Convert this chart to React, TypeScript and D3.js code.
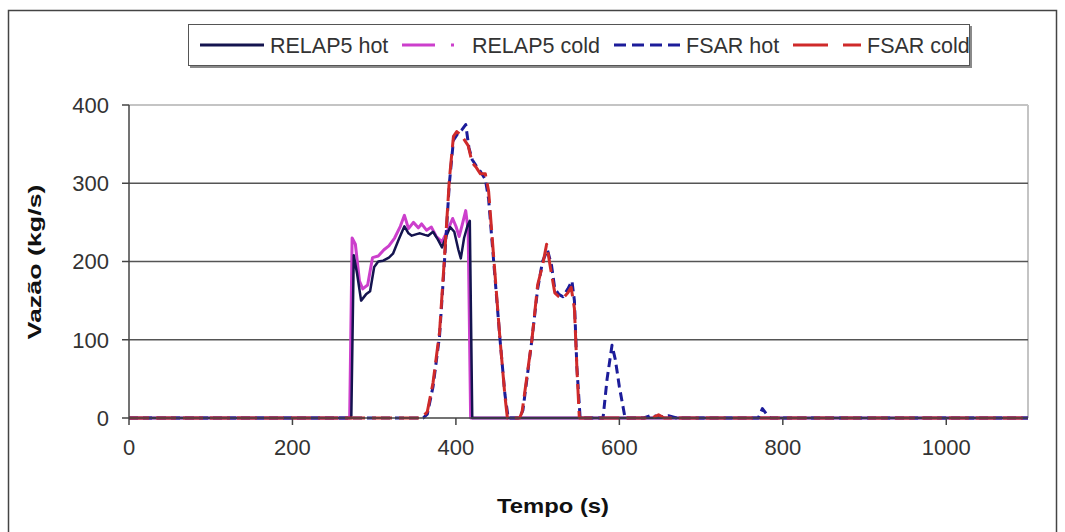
import React from "react";
import * as d3 from "d3";

const xTicks = [0, 200, 400, 600, 800, 1000];
const yTicks = [0, 100, 200, 300, 400];

const relap5Hot: [number, number][] = [
  [0, 0], [272, 0], [275, 208], [279, 185], [284, 150], [290, 158], [295, 162], [300, 193],
  [305, 200], [311, 201], [318, 205], [323, 210], [330, 228], [337, 245], [342, 236], [346, 233],
  [352, 235], [356, 236], [362, 234], [366, 233], [372, 238], [378, 228], [383, 218], [388, 232],
  [393, 244], [398, 238], [403, 215], [406, 204], [410, 230], [414, 245], [417, 252], [420, 0], [1100, 0],
];

const relap5Cold: [number, number][] = [
  [0, 0], [270, 0], [273, 230], [277, 222], [282, 175], [286, 165], [292, 170], [298, 205],
  [305, 207], [312, 215], [318, 220], [325, 230], [332, 245], [337, 259], [342, 242], [348, 250],
  [354, 243], [358, 248], [364, 240], [370, 244], [376, 232], [383, 225], [390, 240], [396, 255],
  [400, 245], [404, 232], [408, 248], [412, 265], [415, 240], [418, 0], [1100, 0],
];

const fsarHot: [number, number][] = [
  [0, 0], [360, 0], [365, 5], [372, 40], [380, 105], [386, 200], [392, 300], [397, 355], [402, 363],
  [407, 368], [412, 375], [416, 345], [420, 330], [425, 322], [430, 315], [436, 305], [440, 280],
  [447, 190], [454, 100], [460, 30], [464, 0], [478, 0], [482, 10], [493, 100], [500, 165], [506, 200],
  [512, 215], [517, 195], [521, 165], [526, 158], [531, 155], [537, 165], [542, 175], [545, 150],
  [548, 65], [552, 0], [580, 0], [585, 50], [591, 93], [595, 75], [600, 40], [607, 0], [630, 0],
  [640, 4], [648, 1], [660, 3], [670, 0], [770, 0], [775, 12], [780, 5], [785, 0], [1100, 0],
];

const fsarCold: [number, number][] = [
  [0, 0], [358, 0], [365, 8], [372, 45], [380, 110], [386, 205], [392, 305], [397, 360], [401, 366],
  [406, 362], [410, 356], [415, 348], [420, 326], [425, 320], [430, 312], [436, 312], [440, 290],
  [447, 195], [454, 100], [460, 28], [463, 0], [478, 0], [481, 8], [493, 100], [500, 170], [506, 195],
  [511, 222], [516, 190], [521, 160], [526, 155], [531, 153], [537, 160], [541, 167], [545, 140],
  [548, 65], [551, 0], [640, 0], [648, 4], [655, 0], [1100, 0],
];

const seriesNames = ["RELAP5 hot", "RELAP5 cold", "FSAR hot", "FSAR cold"];

const FONT = "'Liberation Sans', Arial, sans-serif";

export default function App() {
  const x = d3.scaleLinear().domain([0, 1100]).range([129, 1028]);
  const y = d3.scaleLinear().domain([0, 400]).range([418, 105]);
  const line = d3
    .line<[number, number]>()
    .x((d) => x(d[0]))
    .y((d) => y(d[1]));

  const series = [
    { name: seriesNames[1], data: relap5Cold, color: "#cc3fcc", width: 3, dash: undefined as string | undefined },
    { name: seriesNames[0], data: relap5Hot, color: "#14144f", width: 2.5, dash: undefined as string | undefined },
    { name: seriesNames[2], data: fsarHot, color: "#1c1c9a", width: 3, dash: "9,5" },
    { name: seriesNames[3], data: fsarCold, color: "#cf2a2a", width: 3, dash: "20,7" },
  ];

  const legendItems = [
    { name: seriesNames[0], x1: 200, x2: 264, tx: 270, color: "#14144f", dash: undefined as string | undefined, w: 3 },
    { name: seriesNames[1], x1: 402, x2: 466, tx: 472, color: "#cc3fcc", dash: "33,16,3,20", w: 3 },
    { name: seriesNames[2], x1: 614, x2: 681, tx: 686, color: "#1c1c9a", dash: "12,6", w: 3 },
    { name: seriesNames[3], x1: 793, x2: 861, tx: 867, color: "#cf2a2a", dash: "35,15", w: 3 },
  ];

  return (
    <svg
      width={1065}
      height={532}
      style={{ position: "absolute", left: 0, top: 0, background: "#fff" }}
      fontFamily={FONT}
    >
      <rect x={0} y={0} width={1065} height={532} fill="#fff" />
      {/* outer frame */}
      <rect x={8.5} y={10.5} width={1048} height={540} fill="none" stroke="#444" strokeWidth={1.5} />

      {/* legend */}
      <rect x={190} y={26} width={782} height={42} fill="#8a8a8a" />
      <rect x={188.5} y={24.5} width={781} height={41} fill="#fff" stroke="#555" strokeWidth={1} />
      {legendItems.map((it) => (
        <g key={it.name}>
          <line x1={it.x1} x2={it.x2} y1={45} y2={45} stroke={it.color} strokeWidth={it.w} strokeDasharray={it.dash} />
          <text x={it.tx} y={53} fontSize={21.5} fill="#333">
            {it.name}
          </text>
        </g>
      ))}

      {/* plot area borders */}
      <line x1={129} x2={1028} y1={y(400)} y2={y(400)} stroke="#c4c4c4" strokeWidth={2} />
      <line x1={1028} x2={1028} y1={y(400)} y2={y(0)} stroke="#c4c4c4" strokeWidth={2} />

      {/* gridlines */}
      {yTicks
        .filter((t) => t > 0 && t < 400)
        .map((t) => (
          <line key={t} x1={129} x2={1028} y1={y(t)} y2={y(t)} stroke="#555" strokeWidth={1.5} />
        ))}

      {/* series */}
      {series.map((s) => (
        <path
          key={s.name}
          d={line(s.data) || ""}
          fill="none"
          stroke={s.color}
          strokeWidth={s.width}
          strokeDasharray={s.dash}
          strokeLinejoin="round"
        />
      ))}

      {/* axes */}
      <line x1={129} x2={129} y1={y(400)} y2={y(0)} stroke="#444" strokeWidth={1.5} />
      <line x1={129} x2={1028} y1={y(0)} y2={y(0)} stroke="#444" strokeWidth={1.5} />
      {yTicks.map((t) => (
        <g key={t}>
          <line x1={122} x2={129} y1={y(t)} y2={y(t)} stroke="#444" strokeWidth={1.5} />
          <text x={109} y={y(t)} dy="0.36em" textAnchor="end" fontSize={22} fill="#333">
            {t}
          </text>
        </g>
      ))}
      {xTicks.map((t) => (
        <g key={t}>
          <line x1={x(t)} x2={x(t)} y1={y(0)} y2={y(0) + 7} stroke="#444" strokeWidth={1.5} />
          <text x={x(t)} y={455} textAnchor="middle" fontSize={22} fill="#333">
            {t}
          </text>
        </g>
      ))}

      {/* axis titles */}
      <text x={553} y={513} textAnchor="middle" fontSize={21} fontWeight="bold" fill="#111" textLength={112} lengthAdjust="spacingAndGlyphs">
        Tempo (s)
      </text>
      <text
        transform="translate(41,262) rotate(-90)"
        textAnchor="middle"
        fontSize={19}
        fontWeight="bold"
        fill="#111"
        textLength={155}
        lengthAdjust="spacingAndGlyphs"
      >
        Vazão (kg/s)
      </text>
    </svg>
  );
}
